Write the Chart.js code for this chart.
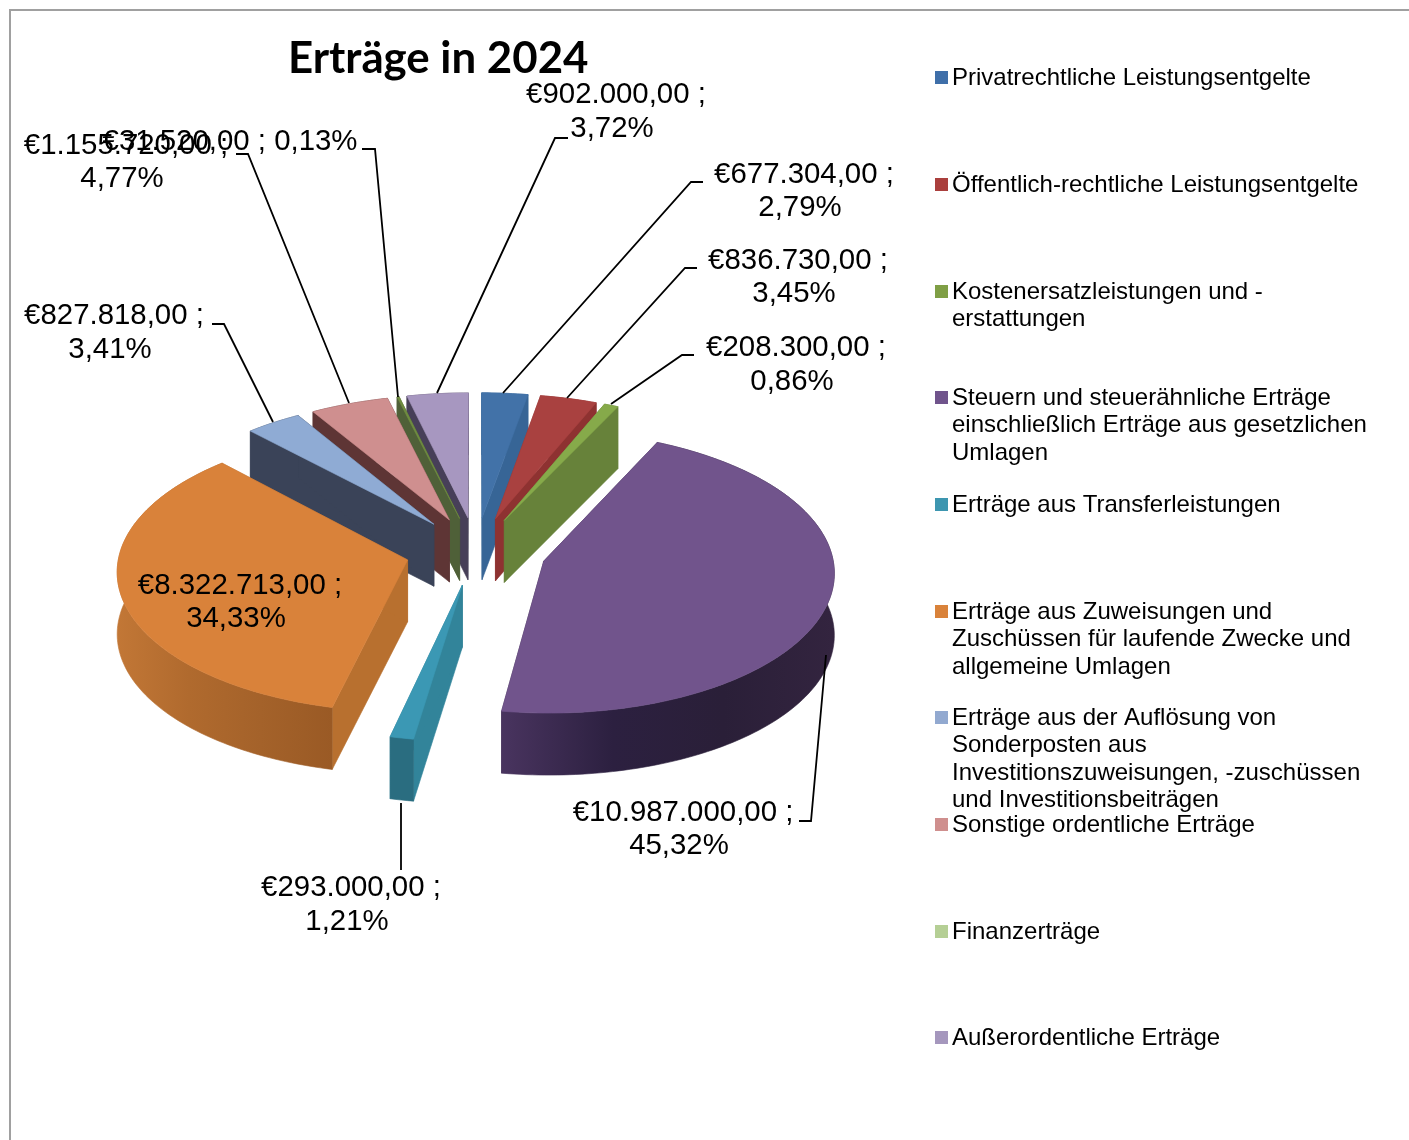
<!DOCTYPE html>
<html lang="de"><head><meta charset="utf-8"><title>Erträge in 2024</title>
<script src="https://cdn.jsdelivr.net/npm/chart.js@4"></script>
<style>html,body{margin:0;background:#fff}canvas{display:block}</style>
</head><body><canvas id="c" width="1409" height="1140"></canvas>
<script>
const chartTitle = 'Erträge in 2024';
const categories = [
  ['Privatrechtliche Leistungsentgelte'],
  ['Öffentlich-rechtliche Leistungsentgelte'],
  ['Kostenersatzleistungen und -','erstattungen'],
  ['Steuern und steuerähnliche Erträge','einschließlich Erträge aus gesetzlichen','Umlagen'],
  ['Erträge aus Transferleistungen'],
  ['Erträge aus Zuweisungen und','Zuschüssen für laufende Zwecke und','allgemeine Umlagen'],
  ['Erträge aus der Auflösung von','Sonderposten aus','Investitionszuweisungen, -zuschüssen','und Investitionsbeiträgen'],
  ['Sonstige ordentliche Erträge'],
  ['Finanzerträge'],
  ['Außerordentliche Erträge']
];
const values = [677304, 836730, 208300, 10987000, 293000, 8322713, 827818, 1155720, 31520, 902000];
const percents = ['2,79%','3,45%','0,86%','45,32%','1,21%','34,33%','3,41%','4,77%','0,13%','3,72%'];
const amounts = ['€677.304,00 ;','€836.730,00 ;','€208.300,00 ;','€10.987.000,00 ;','€293.000,00 ;','€8.322.713,00 ;','€827.818,00 ;','€1.155.720,00 ;','€31.520,00 ; 0,13%','€902.000,00 ;'];
const legendColors = ['#3f6fa9','#aa3f3d','#7f9f45','#70548c','#3d96b0','#d9823a','#92a9d0','#cf8f8e','#b5cf95','#a597bd'];
const topColors    = ['#4272a8','#a94140','#86aa4a','#71548c','#3b98b4','#d9823a','#8fabd4','#cf8f8f','#6f8c40','#a797c0'];
const radialColors = ['#376596','#8e3231','#67823a','#3f2f50','#32849a','#b8702f','#3a4358','#5e3535','#4f6038','#473f58'];
const rimColors = [
  ['#376596','#376596'],['#8e3231','#8e3231'],['#67823a','#67823a'],
  ['#49345f','#2c2040','#2a1f38','#33243f'],['#2a6d80','#2a6d80'],
  ['#c27736','#b06a2e','#a4622a','#9a5a25'],['#3a4358','#3a4358'],['#5e3535','#5e3535'],['#4f6038','#4f6038'],['#473f58','#473f58']
];

// view geometry of the tilted, exploded pie
const view = {cx:476, cy:551, A:288, B:139, perspX:.07, perspY:.075, explode:.245, depth:62};
const labelBoxes = [
  {x:804,y:175,x2:800,y2:208,line:[[703,182],[691,182],[503,393]]},
  {x:798,y:261,x2:794,y2:294,line:[[697,268],[685,268],[567,398]]},
  {x:796,y:348,x2:792,y2:382,line:[[694,355],[682,355],[611,404]]},
  {x:683,y:813,x2:679,y2:846,line:[[799,821],[811,821],[826,655]]},
  {x:351,y:888,x2:347,y2:922,line:[[401,870],[401,803]]},
  {x:240,y:586,x2:236,y2:619,line:null},
  {x:114,y:316,x2:110,y2:350,line:[[212,324],[224,324],[273,422]]},
  {x:126,y:146,x2:122,y2:179,line:[[236,154],[248,154],[349,403]]},
  {x:230,y:142,line:[[362,149],[375,149],[398,397]]},
  {x:616,y:95,x2:612,y2:129,line:[[568,138],[555,138],[437,393]]}
];
const legendRows = [78,185,292,398,505,612,718,825,932,1038];

function project(U,V){
  return [view.cx + view.A*U/(1+view.perspX*V), view.cy - view.B*V/(1+view.perspY*V)];
}
function poly(ctx,pts,fill){
  ctx.beginPath();
  pts.forEach((p,i)=> i?ctx.lineTo(p[0],p[1]):ctx.moveTo(p[0],p[1]));
  ctx.closePath(); ctx.fillStyle=fill; ctx.fill();
  ctx.strokeStyle=fill; ctx.lineWidth=.6; ctx.stroke();
}
const pie3d = {
  id:'pie3d',
  beforeDatasetsDraw(chart){
    const ctx = chart.ctx, d = view.depth;
    // frame
    ctx.save();
    ctx.strokeStyle='#a0a0a0'; ctx.lineWidth=2;
    ctx.beginPath(); ctx.moveTo(10,1140); ctx.lineTo(10,10); ctx.lineTo(1409,10); ctx.stroke();

    const slices = chart.getDatasetMeta(0).data.map((arc,i)=>{
      const p = arc.getProps(['startAngle','endAngle'],true);
      const a0 = p.startAngle+Math.PI/2, a1 = p.endAngle+Math.PI/2, m=(a0+a1)/2;
      const ox = view.explode*Math.sin(m), oy = view.explode*Math.cos(m);
      const pts=[]; const n=Math.max(2,Math.ceil((a1-a0)/.02));
      for(let k=0;k<=n;k++){
        const t=a0+(a1-a0)*k/n;
        pts.push(project(ox+Math.sin(t),oy+Math.cos(t)));
      }
      return {i,m,apex:project(ox,oy),pts};
    });
    slices.sort((a,b)=>Math.cos(b.m)-Math.cos(a.m));
    const down = p=>[p[0],p[1]+d];
    slices.forEach(s=>{
      const last=s.pts[s.pts.length-1], first=s.pts[0];
      poly(ctx,[s.apex,first,down(first),down(s.apex)],radialColors[s.i]);
      poly(ctx,[s.apex,last,down(last),down(s.apex)],radialColors[s.i]);
      const xs=s.pts.map(p=>p[0]), x0=Math.min(...xs), x1=Math.max(...xs);
      const g=ctx.createLinearGradient(x0,0,Math.max(x1,x0+1),0);
      const stops=rimColors[s.i];
      stops.forEach((c,k)=>g.addColorStop(k/(stops.length-1),c));
      poly(ctx,s.pts.concat(s.pts.slice().reverse().map(down)),g);
      poly(ctx,[s.apex].concat(s.pts),topColors[s.i]);
    });

    // leader lines
    ctx.strokeStyle='#000'; ctx.lineWidth=1.8;
    labelBoxes.forEach(b=>{
      if(!b.line) return;
      ctx.beginPath();
      b.line.forEach((p,i)=> i?ctx.lineTo(p[0],p[1]):ctx.moveTo(p[0],p[1]));
      ctx.stroke();
    });
    // data labels
    ctx.fillStyle='#000'; ctx.font='29.4px "Liberation Sans"';
    ctx.textAlign='center'; ctx.textBaseline='middle';
    labelBoxes.forEach((b,i)=>{
      ctx.fillText(amounts[i],b.x,b.y);
      if(b.x2) ctx.fillText(percents[i],b.x2,b.y2);
    });
    // legend
    ctx.textAlign='left'; ctx.font='24px "Liberation Sans"';
    categories.forEach((lines,i)=>{
      const y=legendRows[i];
      ctx.fillStyle=legendColors[i];
      ctx.fillRect(935,y-7,13,13);
      ctx.fillStyle='#000';
      lines.forEach((t,k)=>ctx.fillText(t,952,y+k*27.6));
    });
    ctx.restore();
    return false;
  }
};
new Chart(document.getElementById('c'),{
  type:'pie',
  plugins:[pie3d],
  data:{labels:categories.map(l=>l.join(' ')),
        datasets:[{data:values,backgroundColor:topColors,borderWidth:0}]},
  options:{
    responsive:false,animation:false,
    layout:{padding:{left:288,top:33}},
    plugins:{
      legend:{display:false},tooltip:{enabled:false},
      title:{display:true,text:chartTitle,align:'start',color:'#000',padding:0,
             font:{family:'Lato',weight:'700',size:43.8}}
    }
  }
});
</script></body></html>
